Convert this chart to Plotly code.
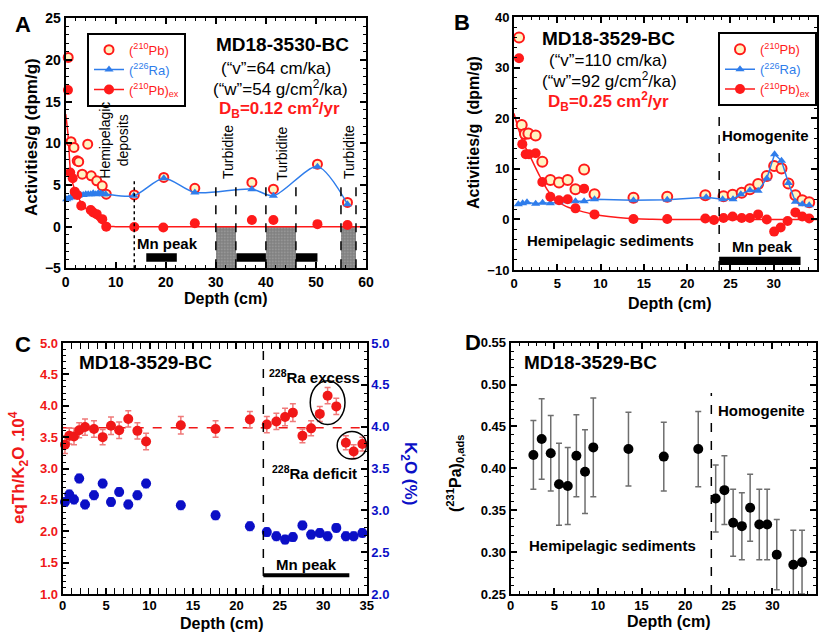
import plotly.graph_objects as go

FONT = "Liberation Sans, Arial, Helvetica, sans-serif"
RED = "#FF1A1A"
BLUE = "#2F7DEB"
DBLUE = "#0B0FC6"
PALE = "#FFF4C2"
W, H = 823, 634

# ---------------- Panel A : MD18-3530-BC ----------------
a_pb_x = [0.5, 1.06, 1.65, 2.3, 2.6, 3.3, 4.4, 5.1, 6.2, 7.3, 8.1, 13.7, 19.6, 25.8, 37.2, 41.5, 50.3, 56.3]
a_pb_y = [20.3, 10.2, 9.5, 7.9, 7.8, 6.3, 9.9, 6.1, 5.5, 4.9, 3.9, 3.8, 5.9, 4.6, 5.3, 4.5, 7.5, 2.9]
a_ex_x = [0.45, 0.9, 1.4, 1.8, 2.3, 3.1, 5.0, 5.5, 6.2, 7.3, 8.1, 13.7, 19.5, 25.8, 37.2, 41.5, 50.3, 56.3]
a_ex_y = [16.4, 6.5, 5.8, 4.2, 3.8, 2.5, 2.0, 1.7, 1.5, 0.9, 0.0, -0.05, -0.1, 0.4, 0.8, 0.8, 0.3, 0.2]
a_ra_x = [0.2, 0.6, 1.0, 1.5, 2.0, 2.5, 3.0, 3.5, 4.0, 4.5, 5.0, 5.5, 6.0, 6.5, 7.0, 7.5, 8.0,
          13.6, 19.6, 25.8, 37.2, 41.5, 50.3, 56.3]
a_ra_y = [3.3, 3.4, 3.5, 3.6, 3.7, 3.7, 3.8, 3.8, 3.9, 3.9, 3.9, 4.0, 3.9, 4.0, 4.0, 3.9, 3.9,
          3.7, 5.8, 4.1, 4.5, 3.7, 7.2, 2.7]
a_fit_x = [0, 0.5, 0.9, 1.3, 1.85, 2.5, 3.2, 4.0, 5.0, 6.0, 7.0, 8.0, 9.0, 10.0, 60.0]
a_fit_y = [13.5, 10.8, 7.0, 5.4, 4.4, 3.5, 2.8, 2.2, 1.6, 1.0, 0.5, 0.15, 0.02, 0.0, 0.0]
a_turbidites = [(30, 34), (40, 46), (55, 58)]
a_mn_peaks = [(16.1, 22.2), (34.1, 40.0), (46.0, 50.3)]
a_hemi_limit = 13.7

# ---------------- Panel B : MD18-3529-BC ----------------
b_pb_x = [0.58, 0.89, 1.27, 1.66, 2.5, 3.27, 4.2, 5.2, 6.2, 7.1, 8.1, 9.3, 13.8, 17.7, 22.1,
          24.2, 25.25, 26.3, 27.25, 28.2, 29.2, 30.05, 30.9, 31.7, 32.5, 33.3, 34.1]
b_pb_y = [36.0, 18.7, 16.9, 17.0, 16.6, 11.4, 7.8, 7.3, 7.8, 6.0, 9.9, 5.0, 4.3, 4.5, 4.8,
          4.6, 4.9, 5.3, 6.0, 7.0, 8.6, 10.6, 10.1, 7.1, 4.8, 3.8, 3.4]
b_ex_x = [0.58, 0.96, 1.35, 1.73, 2.5, 3.27, 4.2, 5.2, 6.2, 7.1, 8.1, 9.3, 13.8, 17.7, 22.1, 23.1,
          24.2, 25.25, 26.3, 27.25, 28.2, 29.2, 30.05, 30.8, 31.6, 32.5, 33.3, 34.1]
b_ex_y = [31.9, 14.9, 12.9, 12.9, 13.1, 7.4, 4.5, 3.8, 4.0, 2.2, 6.1, 1.0, 0.1, 0.1, 0.2, -0.1,
          0.3, 0.6, 0.3, 0.3, 1.0, 0.0, -2.4, -1.6, -0.3, 1.4, 0.6, 0.2]
b_ra_x = [0.5, 1.0, 1.5, 2.5, 3.3, 4.2, 5.2, 6.2, 7.1, 8.1, 9.3, 13.8, 17.7, 22.2,
          24.1, 25.3, 26.2, 27.25, 28.2, 29.2, 30.1, 30.9, 31.7, 32.5, 33.3, 34.1]
b_ra_y = [3.0, 3.2, 3.4, 3.1, 3.3, 3.2, 3.4, 3.6, 3.6, 3.6, 4.0, 3.8, 3.9, 4.4,
          4.0, 4.0, 5.0, 5.8, 5.7, 8.1, 12.9, 11.6, 7.2, 3.5, 3.0, 2.8]
b_fit_x = [0, 1, 2, 3, 4, 5, 6, 7, 8, 9, 10, 12, 14, 16, 18, 35]
b_fit_y = [21.0, 15.5, 12.0, 8.5, 5.5, 3.6, 2.6, 2.0, 1.5, 1.1, 0.8, 0.4, 0.15, 0.05, 0.0, 0.0]
b_boundary = 23.7
b_mn_peak = (23.7, 33.1)

# ---------------- Panel C : eqTh/K2O and K2O ----------------
c_x = [0.26, 0.76, 1.3, 1.9, 2.57, 3.6, 4.6, 5.56, 6.5, 7.55, 8.6, 9.6, 13.6, 17.6, 21.55,
       23.5, 24.6, 25.6, 26.5, 27.6, 28.6, 29.6, 30.5, 31.5, 32.6, 33.5, 34.5]
c_ratio = [3.38, 3.52, 3.51, 3.61, 3.66, 3.63, 3.50, 3.68, 3.61, 3.79, 3.60, 3.43, 3.69, 3.63, 3.78,
           3.70, 3.75, 3.82, 3.89, 3.52, 3.64, 3.87, 4.16, 3.99, 3.41, 3.27, 3.39]
c_ratio_err = [0.14, 0.13, 0.13, 0.12, 0.13, 0.13, 0.12, 0.14, 0.13, 0.13, 0.13, 0.13, 0.14, 0.13, 0.13,
               0.13, 0.13, 0.14, 0.14, 0.11, 0.12, 0.12, 0.13, 0.13, 0.11, 0.11, 0.11]
c_k2o = [3.10, 3.19, 3.13, 3.38, 3.07, 3.18, 3.32, 3.10, 3.22, 3.07, 3.18, 3.32, 3.06, 2.94, 2.81,
         2.74, 2.69, 2.65, 2.68, 2.82, 2.71, 2.73, 2.69, 2.79, 2.69, 2.69, 2.73]
c_k2o_err = [0.05] * len(c_k2o)
c_mean_ratio = 3.65
c_boundary = 23.1
c_mn_peak = (23.1, 33.0)

# ---------------- Panel D : (231Pa)0,ads ----------------
d_x = [2.6, 3.55, 4.59, 5.54, 6.54, 7.53, 8.52, 9.47, 13.5, 17.55, 21.5,
       23.5, 24.5, 25.5, 26.5, 27.45, 28.5, 29.4, 30.5, 32.4, 33.4]
d_pa = [0.416, 0.435, 0.418, 0.381, 0.379, 0.415, 0.396, 0.425, 0.423, 0.414, 0.423,
        0.364, 0.374, 0.335, 0.331, 0.353, 0.333, 0.333, 0.297, 0.285, 0.288]
d_err = [0.041, 0.048, 0.045, 0.049, 0.046, 0.049, 0.050, 0.059, 0.044, 0.041, 0.045,
         0.040, 0.041, 0.040, 0.040, 0.040, 0.042, 0.042, 0.042, 0.041, 0.038]
d_boundary = 23.0


def px(x):
    return x / W


def py(y):
    return 1 - y / H


fig = go.Figure()

# ---- Panel A traces
fig.add_trace(go.Bar(
    x=[(a + b) / 2 for a, b in a_turbidites], y=[5] * len(a_turbidites),
    width=[b - a for a, b in a_turbidites], base=[-5] * len(a_turbidites),
    marker=dict(color="white", line=dict(width=0),
                pattern=dict(shape=".", fgcolor="black", bgcolor="white", size=3, solidity=0.85)),
    showlegend=False, xaxis="x", yaxis="y", hoverinfo="skip"))
fig.add_trace(go.Scatter(x=a_fit_x, y=a_fit_y, mode="lines", line=dict(color=RED, width=1.5, shape="spline"),
                         showlegend=False, xaxis="x", yaxis="y"))
fig.add_trace(go.Scatter(x=a_pb_x, y=a_pb_y, mode="markers", name="<span style='color:#FF1A1A'>(<sup>210</sup>Pb)</span>",
                         marker=dict(symbol="circle", size=9, color=PALE, line=dict(color=RED, width=2)),
                         cliponaxis=False, xaxis="x", yaxis="y", legend="legend"))
fig.add_trace(go.Scatter(x=a_ra_x, y=a_ra_y, mode="lines+markers", name="<span style='color:#2F7DEB'>(<sup>226</sup>Ra)</span>",
                         line=dict(color=BLUE, width=1.5, shape="spline", smoothing=0.8),
                         marker=dict(symbol="triangle-up", size=8, color=BLUE),
                         cliponaxis=False, xaxis="x", yaxis="y", legend="legend"))
fig.add_trace(go.Scatter(x=a_ex_x, y=a_ex_y, mode="markers", showlegend=False,
                         marker=dict(symbol="circle", size=10, color=RED),
                         cliponaxis=False, xaxis="x", yaxis="y"))
fig.add_trace(go.Scatter(x=[None], y=[None], mode="lines+markers",
                         name="<span style='color:#FF1A1A'>(<sup>210</sup>Pb)<sub>ex</sub></span>",
                         line=dict(color=RED, width=1.5), marker=dict(symbol="circle", size=10, color=RED),
                         xaxis="x", yaxis="y", legend="legend"))

# ---- Panel B traces
fig.add_trace(go.Scatter(x=b_fit_x, y=b_fit_y, mode="lines", line=dict(color=RED, width=1.5, shape="spline"),
                         showlegend=False, xaxis="x2", yaxis="y2"))
fig.add_trace(go.Scatter(x=b_pb_x, y=b_pb_y, mode="markers", name="<span style='color:#FF1A1A'>(<sup>210</sup>Pb)</span>",
                         marker=dict(symbol="circle", size=10, color=PALE, line=dict(color=RED, width=2)),
                         cliponaxis=False, xaxis="x2", yaxis="y2", legend="legend2"))
fig.add_trace(go.Scatter(x=b_ra_x, y=b_ra_y, mode="lines+markers", name="<span style='color:#2F7DEB'>(<sup>226</sup>Ra)</span>",
                         line=dict(color=BLUE, width=1.5),
                         marker=dict(symbol="triangle-up", size=8, color=BLUE),
                         cliponaxis=False, xaxis="x2", yaxis="y2", legend="legend2"))
fig.add_trace(go.Scatter(x=b_ex_x, y=b_ex_y, mode="markers", showlegend=False,
                         marker=dict(symbol="circle", size=10, color=RED),
                         cliponaxis=False, xaxis="x2", yaxis="y2"))
fig.add_trace(go.Scatter(x=[None], y=[None], mode="lines+markers",
                         name="<span style='color:#FF1A1A'>(<sup>210</sup>Pb)<sub>ex</sub></span>",
                         line=dict(color=RED, width=1.5), marker=dict(symbol="circle", size=10, color=RED),
                         xaxis="x2", yaxis="y2", legend="legend2"))

# ---- Panel C traces
fig.add_trace(go.Scatter(x=c_x, y=c_ratio, mode="markers", showlegend=False,
                         marker=dict(symbol="circle", size=10, color="#F01818"),
                         error_y=dict(type="data", array=c_ratio_err, color="#F07A7A", thickness=1.5, width=3),
                         cliponaxis=False, xaxis="x3", yaxis="y3"))
fig.add_trace(go.Scatter(x=c_x, y=c_k2o, mode="markers", showlegend=False,
                         marker=dict(symbol="circle", size=10, color=DBLUE),
                         error_y=dict(type="data", array=c_k2o_err, color="#6B6BE8", thickness=1.5, width=3),
                         cliponaxis=False, xaxis="x3", yaxis="y4"))

# ---- Panel D traces
fig.add_trace(go.Scatter(x=d_x, y=d_pa, mode="markers", showlegend=False,
                         marker=dict(symbol="circle", size=10, color="black"),
                         error_y=dict(type="data", array=d_err, color="#6E6E6E", thickness=1.5, width=3),
                         xaxis="x4", yaxis="y5"))


def axis(domain, rng, dtick, mdtick, anchor, tickformat=None, fontcolor="black", fsize=13, mirror="allticks", **kw):
    d = dict(domain=domain, range=rng, dtick=dtick, tick0=rng[0] if dtick < 1 else 0,
             ticks="inside", ticklen=6, tickwidth=1.5, tickcolor="black",
             showline=True, linewidth=2, linecolor="black", mirror=mirror,
             showgrid=False, zeroline=False, anchor=anchor, automargin=False,
             tickfont=dict(family=FONT, size=fsize, color=fontcolor, weight="bold"),
             minor=dict(ticks="inside", ticklen=3, tickwidth=1, tickcolor="black", dtick=mdtick, showgrid=False))
    if tickformat:
        d["tickformat"] = tickformat
    d.update(kw)
    return d


dA_x = [px(65.7), px(366)]
dA_y = [py(268.3), py(18.3)]
dB_x = [px(514), px(817)]
dB_y = [py(270), py(17.3)]
dC_x = [px(62.7), px(366.7)]
dC_y = [py(594), py(343)]
dD_x = [px(510.7), px(816)]
dD_y = [py(594), py(342.7)]

fig.update_layout(
    xaxis=axis(dA_x, [0, 60], 10, 2, "y", fsize=14),
    yaxis=axis(dA_y, [-5, 25], 5, 1, "x", fsize=14),
    xaxis2=axis(dB_x, [0, 35], 5, 1, "y2"),
    yaxis2=axis(dB_y, [-10, 40], 10, 2, "x2"),
    xaxis3=axis(dC_x, [0, 35], 5, 1, "y3", ticklabelstandoff=-2),
    yaxis3=axis(dC_y, [1, 5], 0.5, 0.1, "x3", tickformat=".1f", fontcolor="#F01818", mirror=True),
    yaxis4=axis(dC_y, [2, 5], 0.5, 0.1, "x3", tickformat=".1f", fontcolor=DBLUE, mirror=False,
                overlaying="y3", side="right"),
    xaxis4=axis(dD_x, [0, 35], 5, 1, "y5", ticklabelstandoff=-2),
    yaxis5=axis(dD_y, [0.25, 0.55], 0.05, 0.01, "x4", tickformat=".2f"),
)

# ---- Shapes
shapes = []
shapes.append(dict(type="line", xref="x", yref="y", x0=a_hemi_limit, x1=a_hemi_limit, y0=-5, y1=5.8,
                   line=dict(color="black", width=1.5, dash="dot")))
for a, b in a_turbidites:
    for xv in (a, b):
        shapes.append(dict(type="line", xref="x", yref="y", x0=xv, x1=xv, y0=-5, y1=5.5,
                           line=dict(color="black", width=1.5, dash="dash")))
for a, b in a_mn_peaks:
    shapes.append(dict(type="rect", xref="x", yref="y", x0=a, x1=b, y0=-4.2, y1=-3.2,
                       fillcolor="black", line=dict(width=0)))
shapes.append(dict(type="line", xref="x2", yref="y2", x0=b_boundary, x1=b_boundary, y0=-10, y1=21,
                   line=dict(color="black", width=1.5, dash="dash")))
shapes.append(dict(type="rect", xref="x2", yref="y2", x0=b_mn_peak[0], x1=b_mn_peak[1], y0=-9.0, y1=-7.4,
                   fillcolor="black", line=dict(width=0)))
shapes.append(dict(type="line", xref="x3", yref="y3", x0=c_boundary, x1=c_boundary, y0=1, y1=5,
                   line=dict(color="black", width=1.5, dash="dash")))
shapes.append(dict(type="line", xref="x3", yref="y3", x0=0, x1=35, y0=c_mean_ratio, y1=c_mean_ratio,
                   line=dict(color="#F01818", width=1.5, dash="dash"), layer="below"))
shapes.append(dict(type="line", xref="x3", yref="y3", x0=c_mn_peak[0], x1=c_mn_peak[1], y0=1.3, y1=1.3,
                   line=dict(color="black", width=4)))
shapes.append(dict(type="circle", xref="x3", yref="y3", x0=28.5, x1=32.5, y0=3.70, y1=4.40,
                   line=dict(color="black", width=1.5)))
shapes.append(dict(type="circle", xref="x3", yref="y3", x0=31.6, x1=35.0, y0=3.15, y1=3.59,
                   line=dict(color="black", width=1.5)))
shapes.append(dict(type="line", xref="x4", yref="y5", x0=d_boundary, x1=d_boundary, y0=0.25, y1=0.49,
                   line=dict(color="black", width=1.5, dash="dash")))
# legend shadows
shapes.append(dict(type="rect", xref="paper", yref="paper", x0=px(90), x1=px(180), y0=py(101), y1=py(36),
                   fillcolor="black", line=dict(width=0)))
shapes.append(dict(type="rect", xref="paper", yref="paper", x0=px(721), x1=px(807), y0=py(97), y1=py(35.5),
                   fillcolor="black", line=dict(width=0)))
fig.update_layout(shapes=shapes)

# ---- Annotations
ann = []


def txt(text, x, y, xref, yref, size, color="black", angle=0, bold=False, **kw):
    t = f"<b>{text}</b>" if bold else text
    ann.append(dict(text=t, x=x, y=y, xref=xref, yref=yref, showarrow=False, textangle=angle,
                    font=dict(family=FONT, size=size, color=color), xanchor="center", yanchor="middle", **kw))


# panel letters
txt("A", px(23), py(25), "paper", "paper", 22, bold=True)
txt("B", px(462), py(22), "paper", "paper", 22, bold=True)
txt("C", px(23), py(345), "paper", "paper", 22, bold=True)
txt("D", px(473), py(342), "paper", "paper", 22, bold=True)

# axis titles
txt("Depth (cm)", px(226), py(298), "paper", "paper", 16, bold=True)
txt("Activities/g (dpm/g)", px(31), py(137), "paper", "paper", 17, angle=-90, bold=True)
txt("Depth (cm)", px(670), py(303), "paper", "paper", 16, bold=True)
txt("Activities/g&nbsp;&nbsp;(dpm/g)", px(473), py(133), "paper", "paper", 16, angle=-90, bold=True)
txt("Depth (cm)", px(222), py(623), "paper", "paper", 16, bold=True)
txt("eqTh/K<sub>2</sub>O .10<sup>4</sup>", px(18), py(468), "paper", "paper", 17, color="#F01818", angle=-90, bold=True)
txt("K<sub>2</sub>O (%)", px(409), py(473), "paper", "paper", 17, color=DBLUE, angle=90, bold=True)
txt("Depth (cm)", px(669), py(621), "paper", "paper", 16, bold=True)
txt("(<sup>231</sup>Pa)<sub>0,ads</sub>", px(455), py(473), "paper", "paper", 16, angle=-90, bold=True)

# panel A texts
txt("MD18-3530-BC", 43.3, 21.9, "x", "y", 19, bold=True)
txt("(\u201cv\u201d=64 cm/ka)", 42.0, 19.0, "x", "y", 17)
txt("(\u201cw\u201d=54 g/cm<sup>2</sup>/ka)", 43.0, 16.6, "x", "y", 17)
txt("D<sub>B</sub>=0.12 cm<sup>2</sup>/yr", 42.7, 14.2, "x", "y", 17, color=RED, bold=True)
txt("Hemipelagic<br>deposits", 9.6, 10.4, "x", "y", 14, angle=-90)
txt("Turbidite", 32.3, 9.0, "x", "y", 14, angle=-90)
txt("Turbidite", 43.3, 8.8, "x", "y", 14, angle=-90)
txt("Turbidite", 56.5, 9.0, "x", "y", 14, angle=-90)
txt("Mn peak", 20.4, -2.0, "x", "y", 15, bold=True)

# panel B texts
txt("MD18-3529-BC", 10.9, 35.8, "x2", "y2", 19, bold=True)
txt("(\u201cv\u201d=110 cm/ka)", 10.9, 31.5, "x2", "y2", 17)
txt("(\u201cw\u201d=92 g/cm<sup>2</sup>/ka)", 11.0, 27.6, "x2", "y2", 17)
txt("D<sub>B</sub>=0.25 cm<sup>2</sup>/yr", 10.9, 23.4, "x2", "y2", 17, color=RED, bold=True)
txt("Homogenite", 29.0, 16.7, "x2", "y2", 15, bold=True)
txt("Hemipelagic sediments", 11.1, -4.2, "x2", "y2", 15, bold=True)
txt("Mn peak", 28.7, -5.4, "x2", "y2", 15, bold=True)

# panel C texts
txt("MD18-3529-BC", 9.5, 4.69, "x3", "y3", 19, bold=True)
txt("<sup>228</sup>Ra excess", 29.0, 4.47, "x3", "y3", 15, bold=True)
txt("<sup>228</sup>Ra deficit", 29.0, 2.93, "x3", "y3", 15, bold=True)
txt("Mn peak", 28.1, 1.47, "x3", "y3", 15, bold=True)

# panel D texts
txt("MD18-3529-BC", 9.1, 0.526, "x4", "y5", 19, bold=True)
txt("Homogenite", 28.7, 0.469, "x4", "y5", 15, bold=True)
txt("Hemipelagic sediments", 11.65, 0.308, "x4", "y5", 15, bold=True)

fig.update_layout(annotations=ann)

LEG = dict(bgcolor="white", bordercolor="black", borderwidth=2, xanchor="left", yanchor="top",
           font=dict(family=FONT, size=13), tracegroupgap=0, itemwidth=30)
fig.update_layout(
    legend=dict(x=px(87), y=py(32.7), **LEG),
    legend2=dict(x=px(718), y=py(32.3), **LEG),
    width=W, height=H, margin=dict(l=0, r=0, t=0, b=0, autoexpand=False),
    paper_bgcolor="white", plot_bgcolor="white",
    font=dict(family=FONT), bargap=0, hovermode=False,
)

fig.write_html("out.html",
               config={"displayModeBar": False},
               post_script="document.body.style.margin='0';document.body.style.padding='0';"
                           "document.documentElement.style.overflow='hidden';")
